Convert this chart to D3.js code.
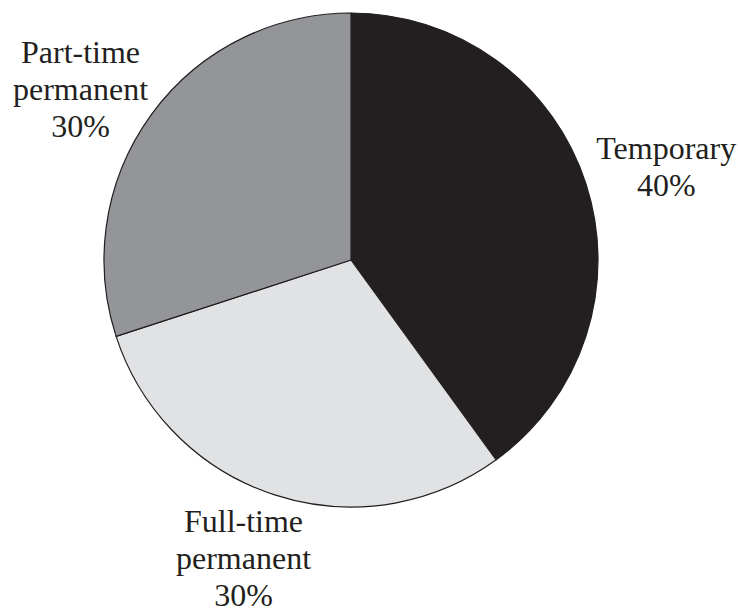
<!DOCTYPE html>
<html>
<head>
<meta charset="utf-8">
<script src="https://cdn.jsdelivr.net/npm/d3@7"></script>
<style>
  html, body { margin: 0; padding: 0; background: #fff; }
  svg { display: block; }
</style>
</head>
<body>
<svg id="chart" width="738" height="610"></svg>
<script>
// Employment type shares
const categories = ["Temporary", "Full-time permanent", "Part-time permanent"];
const labelLines = [["Temporary"], ["Full-time", "permanent"], ["Part-time", "permanent"]];
const values = [40, 30, 30];
const colors = ["#231f20", "#e1e2e4", "#939598"];

const width = 738, height = 610;
const cx = 351, cy = 260, radius = 247;
const labelRadius = 322;
// small per-label nudges so text blocks clear the rim
const labelNudge = [[9, 6], [-8, -8], [-10, 19]];

const svg = d3.select("#chart");
const g = svg.append("g").attr("transform", `translate(${cx},${cy})`);

const data = categories.map((c, i) => ({ name: c, value: values[i], lines: labelLines[i], color: colors[i], i }));

const pie = d3.pie().value(d => d.value).sort(null);
const arc = d3.arc().innerRadius(0).outerRadius(radius);
const labelArc = d3.arc().innerRadius(labelRadius).outerRadius(labelRadius);

const arcs = pie(data);

g.selectAll("path.slice")
  .data(arcs)
  .join("path")
  .attr("class", "slice")
  .attr("d", arc)
  .attr("fill", d => d.data.color)
  .attr("stroke", "#231f20")
  .attr("stroke-width", 1.2)
  .attr("stroke-linejoin", "round");

const fontSize = 32, lineH = 37, capH = 21;

g.selectAll("text.label")
  .data(arcs)
  .join("text")
  .attr("class", "label")
  .attr("text-anchor", "middle")
  .attr("font-family", "'Liberation Serif', 'Times New Roman', serif")
  .attr("font-size", fontSize)
  .attr("fill", "#231f20")
  .each(function(d) {
    const [x0, y0] = labelArc.centroid(d);
    const nudge = labelNudge[d.data.i];
    const x = x0 + nudge[0];
    const lines = d.data.lines.concat([d3.format(".0f")(d.data.value) + "%"]);
    const blockH = capH + lineH * (lines.length - 1);
    const firstBase = y0 + nudge[1] - blockH / 2 + capH;
    const t = d3.select(this);
    lines.forEach((ln, k) => {
      t.append("tspan").attr("x", x).attr("y", firstBase + k * lineH).text(ln);
    });
  });
</script>
</body>
</html>
